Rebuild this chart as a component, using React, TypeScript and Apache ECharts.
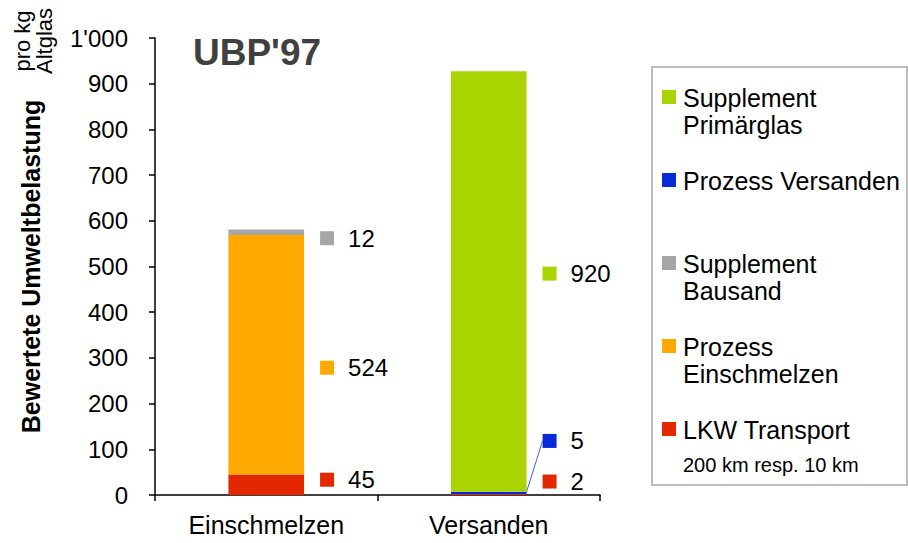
import React, { useEffect, useRef } from "react";
import * as echarts from "echarts";

const categories = ["Einschmelzen", "Versanden"];
const lkwTransport = [45, 2];
const prozessEinschmelzen = [524, null];
const prozessVersanden = [null, 5];
const supplementBausand = [12, null];
const supplementPrimaerglas = [null, 920];
const yTicks = [0, 100, 200, 300, 400, 500, 600, 700, 800, 900, 1000];

const FONT = "'Liberation Sans', Arial, sans-serif";

const seriesDefs = [
  { name: "LKW Transport", legend: "LKW Transport", data: lkwTransport, color: "#e52700", dy: [-5, -13] },
  { name: "Prozess Einschmelzen", legend: "Prozess\nEinschmelzen", data: prozessEinschmelzen, color: "#ffa800", dy: [13, 0] },
  { name: "Prozess Versanden", legend: "Prozess Versanden", data: prozessVersanden, color: "#0a2ad8", dy: [0, -52] },
  { name: "Supplement Bausand", legend: "Supplement\nBausand", data: supplementBausand, color: "#a6a6a6", dy: [6, 0] },
  { name: "Supplement Primärglas", legend: "Supplement\nPrimärglas", data: supplementPrimaerglas, color: "#a9d400", dy: [0, -8] },
];

const legendOrder = [
  "Supplement Primärglas",
  "Prozess Versanden",
  "Supplement Bausand",
  "Prozess Einschmelzen",
  "LKW Transport",
];

export default function App() {
  const ref = useRef<HTMLDivElement>(null);
  useEffect(() => {
    if (!ref.current) return;
    const chart = echarts.init(ref.current, null, { renderer: "svg" });

    const series = seriesDefs.map((s) => ({
      name: s.name,
      type: "bar",
      stack: "total",
      barWidth: "34%",
      itemStyle: { color: s.color },
      data: s.data.map((v) => (v === null ? "-" : v)),
      label: {
        show: true,
        position: "right",
        distance: 16,
        formatter: (p: any) => `{m|}{v|${p.value}}`,
        rich: {
          m: { width: 14, height: 14, backgroundColor: s.color },
          v: { fontSize: 24, fontFamily: FONT, color: "#000", padding: [0, 0, 0, 14] },
        },
      },
      labelLayout: (p: any) => ({ dy: s.dy[p.dataIndex] || 0 }),
      labelLine:
        s.name === "Prozess Versanden"
          ? { show: true, lineStyle: { color: "#3a5cff", width: 1 } }
          : { show: false },
    }));

    const legendGraphics: any[] = [
      {
        type: "rect",
        shape: { x: 652, y: 67, width: 255, height: 418 },
        style: { fill: "#fff", stroke: "#a8a8a8", lineWidth: 1.5 },
      },
    ];
    legendOrder.forEach((name, i) => {
      const s = seriesDefs.find((d) => d.name === name)!;
      const top = 90 + i * 83;
      legendGraphics.push({
        type: "rect",
        shape: { x: 662, y: top, width: 14, height: 14 },
        style: { fill: s.color },
      });
      legendGraphics.push({
        type: "text",
        x: 683,
        y: top - 6,
        style: {
          text: s.legend,
          font: `25px ${FONT}`,
          fill: "#000",
          lineHeight: 27,
          textVerticalAlign: "top",
        },
      });
    });
    legendGraphics.push({
      type: "text",
      x: 683,
      y: 455,
      style: { text: "200 km resp. 10 km", font: `20px ${FONT}`, fill: "#000", textVerticalAlign: "top" },
    });

    chart.setOption({
      animation: false,
      grid: { left: 155, right: 308, top: 38, bottom: 48 },
      xAxis: {
        type: "category",
        data: categories,
        axisLine: { lineStyle: { color: "#000", width: 1.5 } },
        axisTick: { show: true, length: 6, lineStyle: { color: "#000", width: 1.5 } },
        axisLabel: { fontSize: 25, fontFamily: FONT, color: "#000", margin: 17 },
      },
      yAxis: {
        type: "value",
        min: yTicks[0],
        max: yTicks[yTicks.length - 1],
        interval: 100,
        name: "Bewertete Umweltbelastung",
        nameLocation: "middle",
        nameRotate: 90,
        nameGap: 112,
        nameTextStyle: { fontSize: 25, fontWeight: "bold", fontFamily: FONT, color: "#000" },
        axisLine: { show: true, lineStyle: { color: "#000", width: 1.5 } },
        axisTick: { show: true, length: 6, lineStyle: { color: "#000", width: 1.5 } },
        splitLine: { show: false },
        axisLabel: {
          fontSize: 24,
          fontFamily: FONT,
          color: "#000",
          margin: 27,
          formatter: (v: number) => String(v).replace(/\B(?=(\d{3})+(?!\d))/g, "'"),
        },
      },
      graphic: [
        {
          type: "text",
          x: 193,
          y: 52,
          style: {
            text: "UBP'97",
            font: `bold 37px ${FONT}`,
            fill: "#404040",
            textVerticalAlign: "middle",
          },
        },
        {
          type: "text",
          x: 33,
          y: 41,
          rotation: Math.PI / 2,
          style: {
            text: "pro kg\nAltglas",
            font: `22px ${FONT}`,
            fill: "#000",
            lineHeight: 22,
            textAlign: "center",
            textVerticalAlign: "middle",
          },
        },
        ...legendGraphics,
      ],
      series,
    });
    return () => chart.dispose();
  }, []);
  return (
    <div
      ref={ref}
      style={{ position: "fixed", left: 0, top: 0, width: 908, height: 543, background: "#fff" }}
    />
  );
}
